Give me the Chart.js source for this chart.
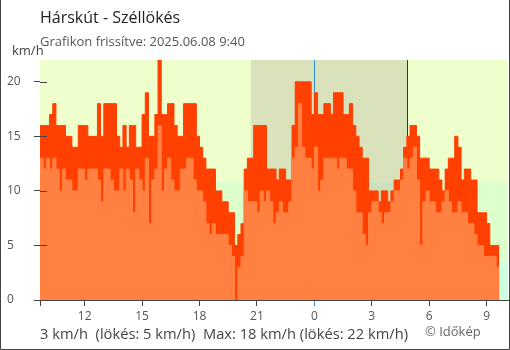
<!DOCTYPE html>
<html>
<head>
<meta charset="utf-8">
<script src="https://cdn.jsdelivr.net/npm/chart.js@4"></script>
<style>
    html, body { margin: 0; padding: 0; background: #fff; }
    canvas { display: block; }
</style>
</head>
<body>
<canvas id="windChart" width="510" height="350"></canvas>
<script>
// 10 perces mérések, előző nap 9:40-től
const startHour = 9 + 40 / 60;
const stepMinutes = 10;

const gust = [
    16, 16, 16, 17, 18, 16, 16, 16, 15, 15, 14, 14, 16, 16, 16, 15, 15, 15, 18, 15, 18, 18, 18, 18,
    15, 14, 16, 14, 16, 16, 14, 14, 17, 19, 15, 15, 17, 22, 17, 17, 18, 18, 16, 15, 15, 18, 18, 18, 18,
    15, 14, 13, 12, 12, 12, 10, 10, 9, 9, 8, 8, 5, 6, 7, 12, 13, 13, 16, 16, 16, 16, 12, 12,
    12, 11, 12, 12, 11, 11, 16, 20, 20, 20, 20, 20, 17, 19, 17, 17, 18, 18, 17, 19, 19, 19, 17, 17, 18,
    16, 15, 14, 13, 13, 10, 10, 10, 9, 10, 10, 9, 10, 11, 11, 12, 14, 15, 16, 16, 15, 13, 13, 13,
    12, 12, 12, 11, 10, 12, 13, 13, 15, 14, 11, 12, 12, 11, 11, 8, 8, 8, 7, 5, 5, 5, 5,
];
const wind = [
    13, 12, 13, 12, 13, 12, 10, 12, 11, 11, 10, 10, 12, 12, 11, 12, 12, 12, 11, 9, 12, 12, 11, 10,
    10, 12, 10, 12, 11, 8, 12, 11, 10, 13, 7, 11, 12, 16, 10, 12, 13, 11, 10, 10, 12, 12, 13, 13, 11,
    10, 10, 9, 7, 6, 7, 6, 6, 6, 6, 5, 4, 0, 3, 4, 10, 9, 9, 9, 8, 10, 9, 10, 9,
    7, 8, 9, 8, 8, 9, 13, 14, 18, 14, 13, 13, 12, 14, 10, 11, 13, 13, 13, 13, 12, 13, 13, 12, 12,
    10, 8, 8, 6, 5, 8, 9, 9, 8, 7, 8, 8, 9, 10, 10, 11, 13, 12, 13, 14, 11, 5, 9, 10,
    9, 9, 8, 8, 9, 10, 9, 8, 8, 9, 8, 8, 7, 7, 6, 5, 5, 4, 4, 4, 4, 3, 3,
];

const hourTicks = [12, 15, 18, 21, 24, 27, 30, 33];
const speedTicks = [0, 5, 10, 15, 20];

// sávhatárok: 1 m/s és 3 m/s
const bandLimits = [3.6, 10.8];
const bandColors = ["#ccffdd", "#ddffcc", "#eeffcc"];

const sunset = 20 + 41 / 60;
const sunrise = 24 + 4 + 50 / 60;
const midnight = 24;

const titleText = "Hárskút - Széllökés";
const subtitleText = "Grafikon frissítve: 2025.06.08 9:40";
const unitText = "km/h";
const footerText = "3 km/h  (lökés: 5 km/h)  Max: 18 km/h (lökés: 22 km/h)";
const creditText = "© Időkép";

const fontFamily = "'Open Sans', 'Noto Sans', sans-serif";

const toPoints = (values) =>
    values.map((v, i) => ({ x: startHour + (i * stepMinutes) / 60, y: v }));

const backgroundPlugin = {
    id: "background",
    beforeDatasetsDraw(chart) {
        const { ctx, chartArea: a, scales } = chart;
        const x = scales.x;
        const y = scales.y;
        ctx.save();
        ctx.beginPath();
        ctx.rect(a.left, a.top, a.right - a.left, a.bottom - a.top);
        ctx.clip();

        const limits = [0, ...bandLimits, y.max];
        for (let i = 0; i < bandColors.length; i++) {
            const top = y.getPixelForValue(limits[i + 1]);
            const bottom = y.getPixelForValue(limits[i]);
            ctx.fillStyle = bandColors[i];
            ctx.fillRect(a.left, top, a.right - a.left, bottom - top);
        }

        // éjszaka
        const nx1 = x.getPixelForValue(sunset);
        const nx2 = x.getPixelForValue(sunrise);
        ctx.fillStyle = "rgba(98, 62, 91, 0.15)";
        ctx.fillRect(nx1, a.top, nx2 - nx1, a.bottom - a.top);

        const mx = Math.round(x.getPixelForValue(midnight)) + 0.5;
        ctx.strokeStyle = "#2a90e0";
        ctx.lineWidth = 1;
        ctx.beginPath();
        ctx.moveTo(mx, a.top);
        ctx.lineTo(mx, a.bottom);
        ctx.stroke();

        const sx = Math.round(nx2) + 0.5;
        ctx.strokeStyle = "#333";
        ctx.beginPath();
        ctx.moveTo(sx, a.top);
        ctx.lineTo(sx, a.bottom);
        ctx.stroke();
        ctx.restore();
    },
    afterDatasetsDraw(chart) {
        const { ctx, chartArea: a, scales } = chart;
        ctx.save();
        ctx.strokeStyle = "#444";
        ctx.lineWidth = 1;
        ctx.beginPath();
        speedTicks.forEach((v) => {
            const py = Math.round(scales.y.getPixelForValue(v)) + 0.5;
            ctx.moveTo(a.left, py);
            ctx.lineTo(a.left + 7, py);
        });
        const lx = Math.round(a.left) + 0.5;
        ctx.moveTo(lx, a.bottom);
        ctx.lineTo(lx, a.bottom + 6);
        ctx.stroke();
        ctx.restore();
    },
    afterDraw(chart) {
        const { ctx, width, height } = chart;
        ctx.save();
        ctx.textBaseline = "alphabetic";
        ctx.textAlign = "left";

        ctx.fillStyle = "#222";
        ctx.font = "16px " + fontFamily;
        ctx.fillText(titleText, 40, 23);

        ctx.fillStyle = "#555";
        ctx.font = "13px " + fontFamily;
        ctx.fillText(subtitleText, 40, 46);

        ctx.fillStyle = "#444";
        ctx.fillText(unitText, 12, 55);

        ctx.font = "14.7px " + fontFamily;
        ctx.fillText(footerText, 40, 339);

        ctx.fillStyle = "#666";
        ctx.font = "13px " + fontFamily;
        ctx.fillText(creditText, 425, 336);

        // keret
        ctx.strokeStyle = "#444";
        ctx.lineWidth = 1;
        ctx.beginPath();
        ctx.moveTo(0.5, 0);
        ctx.lineTo(0.5, height - 0.5);
        ctx.lineTo(width - 0.5, height - 0.5);
        ctx.lineTo(width - 0.5, 0);
        ctx.stroke();
        ctx.restore();
    },
};

new Chart(document.getElementById("windChart"), {
    type: "line",
    data: {
        datasets: [
            {
                label: "Szél",
                data: toPoints(wind),
                borderColor: "#ff8040",
                backgroundColor: "#ff8040",
                borderWidth: 1,
                fill: "origin",
                stepped: "before",
                pointRadius: 0,
            },
            {
                label: "Széllökés",
                data: toPoints(gust),
                borderColor: "#ff4000",
                backgroundColor: "#ff4000",
                borderWidth: 1,
                fill: "origin",
                stepped: "before",
                pointRadius: 0,
            },
        ],
    },
    options: {
        responsive: false,
        animation: false,
        devicePixelRatio: 1,
        layout: { padding: { left: 7, top: 60, right: 2, bottom: 0 } },
        plugins: {
            legend: { display: false },
            tooltip: { enabled: false },
        },
        scales: {
            x: {
                type: "linear",
                min: startHour,
                max: startHour + 24.45,
                afterBuildTicks: (scale) => {
                    scale.ticks = hourTicks.map((v) => ({ value: v }));
                },
                afterFit: (scale) => {
                    scale.height = 50;
                },
                grid: {
                    drawOnChartArea: false,
                    tickLength: 6,
                    color: (c) =>
                        c.tick && c.tick.value === midnight ? "#2a90e0" : "#444",
                },
                border: { color: "#444" },
                ticks: {
                    color: "#555",
                    padding: 3,
                    maxRotation: 0,
                    autoSkip: false,
                    font: { family: fontFamily, size: 12 },
                    callback: (v) => String(v % 24),
                },
            },
            y: {
                min: 0,
                max: 22,
                afterBuildTicks: (scale) => {
                    scale.ticks = speedTicks.map((v) => ({ value: v }));
                },
                afterFit: (scale) => {
                    scale.width = 33;
                },
                grid: { drawOnChartArea: false, tickLength: 6, color: "#444" },
                border: { color: "#444" },
                ticks: {
                    crossAlign: "far",
                    color: "#555",
                    font: { family: fontFamily, size: 12 },
                },
            },
        },
    },
    plugins: [backgroundPlugin],
});
</script>
</body>
</html>
